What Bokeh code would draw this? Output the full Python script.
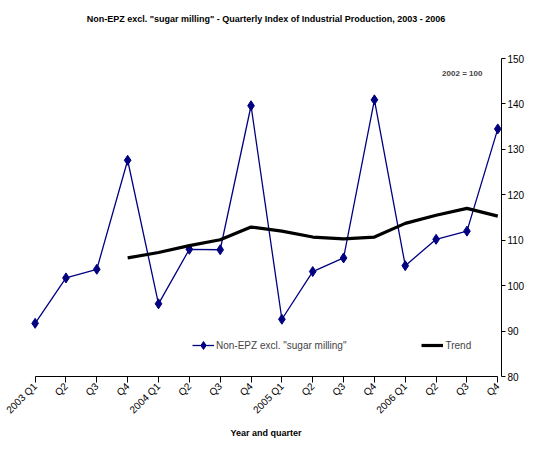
from math import pi
from bokeh.plotting import figure
from bokeh.models import Range1d, FixedTicker, Legend, LegendItem, Label, Title
from bokeh.embed import file_html
from bokeh.resources import INLINE

quarters = ["2003 Q1", "Q2", "Q3", "Q4",
            "2004 Q1", "Q2", "Q3", "Q4",
            "2005 Q1", "Q2", "Q3", "Q4",
            "2006 Q1", "Q2", "Q3", "Q4"]
index_values = [91.7, 101.7, 103.6, 127.6, 96.0, 108.0, 107.9, 139.6,
                92.6, 103.1, 106.1, 140.9, 104.4, 110.2, 112.0, 134.5]
trend_start = 3
trend_values = [106.1, 107.3, 108.8, 110.1, 112.9, 112.0, 110.7, 110.3,
                110.7, 113.7, 115.5, 117.0, 115.3]
y_ticks = [80, 90, 100, 110, 120, 130, 140, 150]
title_text = 'Non-EPZ excl. "sugar milling" - Quarterly Index of Industrial Production, 2003 - 2006'

FONT = "Liberation Sans"

x = list(range(len(quarters)))
trend_x = x[trend_start:trend_start + len(trend_values)]

p = figure(width=527, height=441, output_backend="svg", toolbar_location=None,
           x_range=Range1d(-0.15, len(quarters) - 1 + 0.12),
           y_range=Range1d(80, 150), y_axis_location="right",
           min_border_left=30, min_border_top=0, min_border_right=10,
           min_border_bottom=62)
p.outline_line_color = None
p.grid.visible = False
p.background_fill_color = "white"
p.border_fill_color = "white"

# empty spacer between the plotting area and the title
p.add_layout(Title(text=" ", text_font_size="9px", standoff=12), "above")

p.title.text = title_text
p.title.text_font = FONT
p.title.text_font_size = "9px"
p.title.text_font_style = "bold"
p.title.align = "center"
p.title.text_color = "black"
p.title.standoff = 22
p.title.offset = 12

xa = p.xaxis[0]
xa.ticker = FixedTicker(ticks=x)
xa.major_label_overrides = {i: q for i, q in enumerate(quarters)}
xa.bounds = (0, len(quarters) - 1)
xa.major_label_orientation = pi / 4
xa.major_tick_in = 0
xa.major_tick_out = 6
xa.minor_tick_line_color = None
xa.major_label_text_font = FONT
xa.major_label_text_font_size = "10px"
xa.major_label_text_color = "black"
xa.axis_line_color = "black"
xa.major_tick_line_color = "black"
xa.axis_label = "Year and quarter"
xa.axis_label_text_font = FONT
xa.axis_label_text_font_size = "9px"
xa.axis_label_text_font_style = "bold"
xa.axis_label_text_color = "black"
xa.axis_label_standoff = 6
xa.major_label_standoff = 2

ya = p.yaxis[0]
ya.ticker = FixedTicker(ticks=y_ticks)
ya.major_tick_in = 0
ya.major_tick_out = 4
ya.minor_tick_line_color = None
ya.major_label_text_font = FONT
ya.major_label_text_font_size = "10px"
ya.major_label_text_color = "black"
ya.major_label_standoff = 2
ya.axis_line_color = "black"
ya.major_tick_line_color = "black"

navy = "#000080"
l1 = p.line(x, index_values, line_color=navy, line_width=1.3)
s1 = p.scatter(x, index_values, marker="diamond", size=10, fill_color=navy,
               line_color=navy)
l2 = p.line(trend_x, trend_values, line_color="black", line_width=3.2)

legend = Legend(items=[
    LegendItem(label='Non-EPZ excl. "sugar milling"', renderers=[l1, s1]),
    LegendItem(label="Trend", renderers=[l2]),
], orientation="horizontal", location=(162, 21))
legend.border_line_color = None
legend.background_fill_alpha = 0
legend.padding = 0
legend.margin = 0
legend.spacing = 75
legend.glyph_width = 22
legend.label_standoff = 2
legend.label_text_font = FONT
legend.label_text_font_size = "10px"
p.add_layout(legend)

p.add_layout(Label(x=14.5, y=146.6, text="2002 = 100", text_align="right",
                   text_baseline="middle", text_font=FONT, text_font_size="8px",
                   text_font_style="bold"))

open("out.html", "w").write(file_html(p, INLINE))
